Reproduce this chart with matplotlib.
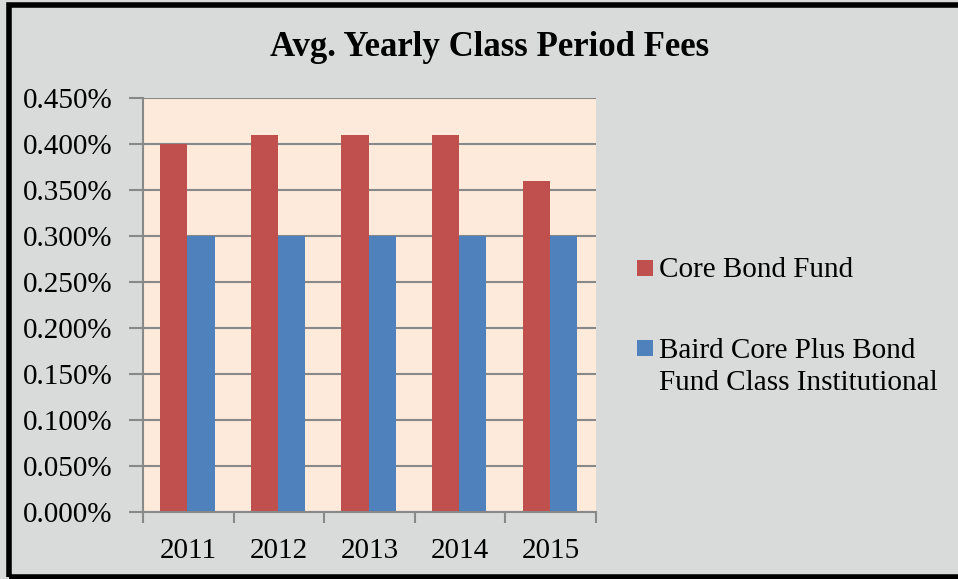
import matplotlib
matplotlib.use("Agg")
import matplotlib.pyplot as plt
import numpy as np
from matplotlib.patches import Rectangle
from matplotlib.ticker import FuncFormatter, MultipleLocator

years = ["2011", "2012", "2013", "2014", "2015"]
core_bond = [0.400, 0.410, 0.410, 0.410, 0.360]
baird = [0.300, 0.300, 0.300, 0.300, 0.300]
series_labels = ["Core Bond Fund", "Baird Core Plus Bond\nFund Class Institutional"]
series_colors = ["#C0504D", "#4F81BD"]
title = "Avg. Yearly Class Period Fees"

plt.rcParams['font.family'] = ['Liberation Serif', 'DejaVu Serif']

W, H = 958, 579
fig = plt.figure(figsize=(W/100, H/100), dpi=100)
fig.patch.set_facecolor("#D9DADA")
ax = fig.add_axes([143/W, 1-512/H, (596-143)/W, (512-98)/H])
ax.set_facecolor("#FDEADA")

x = np.arange(len(years))
w = 0.3
ax.bar(x - w/2 - 0.01, core_bond, w, color=series_colors[0], label=series_labels[0], zorder=3)
ax.bar(x + w/2 - 0.01, baird, w, color=series_colors[1], label=series_labels[1], zorder=3)

ax.set_xlim(-0.5, len(years) - 0.5)
ax.set_ylim(0, 0.45)
ax.yaxis.set_major_locator(MultipleLocator(0.05))
ax.yaxis.set_major_formatter(FuncFormatter(lambda v, p: f"{v:.3f}%"))
ax.set_xticks(x)
ax.set_xticklabels(years)
ax.set_xticks(np.arange(-0.5, len(years)), minor=True)
ax.tick_params(axis='x', which='major', length=0, labelsize=21, pad=19)
ax.tick_params(axis='x', which='minor', length=8, width=1.5, color="#888888")
ax.tick_params(axis='y', length=10, width=1.5, color="#888888", labelsize=21, pad=12)
ax.grid(axis='y', color="#888888", linewidth=1.5, zorder=1)
for s in ['top', 'right']:
    ax.spines[s].set_visible(False)
for s in ['left', 'bottom']:
    ax.spines[s].set_color("#888888")
    ax.spines[s].set_linewidth(1.5)
    ax.spines[s].set_zorder(4)

fig.text(490/W, 1-47/H, title, ha='center', va='center', fontsize=25, fontweight='bold')

# legend (drawn manually to mimic the spreadsheet layout)
sq = 16
rows = [(260, 277), (340, 390)]  # (square top px, last-line baseline px)
for (sq_top, base), lab, col in zip(rows, series_labels, series_colors):
    fig.patches.append(Rectangle((637/W, 1-(sq_top+sq)/H), sq/W, sq/H,
                                 transform=fig.transFigure, facecolor=col, edgecolor='none'))
    fig.text(659/W, 1-base/H, lab, ha='left', va='baseline', fontsize=21, linespacing=1.32)

fig.patches.append(Rectangle((9/W, 2/H), 1.2, 1 - 7/H, transform=fig.transFigure,
                             fill=False, edgecolor="black", linewidth=4))

fig.savefig("out.png", dpi=100, facecolor=fig.get_facecolor())
